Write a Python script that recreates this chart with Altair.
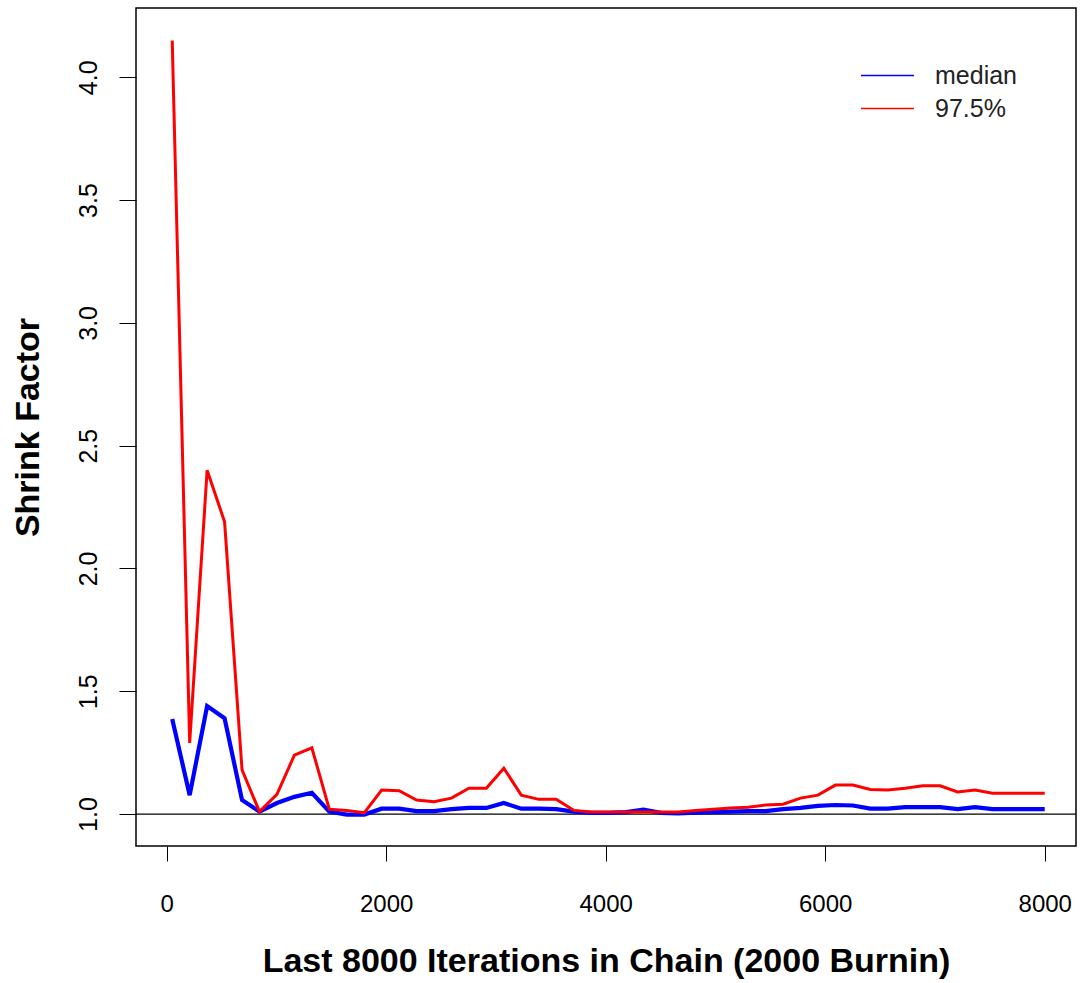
import altair as alt
import pandas as pd

iterations = [51, 210, 369, 528, 687, 846, 1005, 1164, 1323, 1482, 1641, 1800, 1959,
              2118, 2277, 2436, 2595, 2754, 2913, 3072, 3231, 3390, 3549, 3708, 3867,
              4026, 4185, 4344, 4503, 4662, 4821, 4980, 5139, 5298, 5457, 5616, 5775,
              5934, 6093, 6252, 6411, 6570, 6729, 6888, 7047, 7206, 7365, 7524, 7683, 8000]

median_vals = [1.387, 1.077, 1.44, 1.39, 1.057, 1.01, 1.045, 1.07, 1.087, 1.01,
               0.998, 0.998, 1.022, 1.022, 1.012, 1.012, 1.02, 1.025, 1.025, 1.045,
               1.022, 1.022, 1.02, 1.01, 1.005, 1.005, 1.008, 1.018, 1.005, 1.003,
               1.006, 1.008, 1.01, 1.012, 1.012, 1.02, 1.025, 1.033, 1.037, 1.035,
               1.022, 1.022, 1.028, 1.028, 1.028, 1.02, 1.028, 1.02, 1.02, 1.02]

upper_vals = [4.15, 1.29, 2.40, 2.19, 1.18, 1.01, 1.08, 1.24, 1.27, 1.02,
              1.015, 1.005, 1.098, 1.095, 1.057, 1.05, 1.065, 1.105, 1.105, 1.187,
              1.077, 1.06, 1.06, 1.015, 1.008, 1.008, 1.008, 1.008, 1.008, 1.008,
              1.015, 1.02, 1.025, 1.028, 1.037, 1.04, 1.065, 1.077, 1.118, 1.118,
              1.10, 1.098, 1.105, 1.115, 1.115, 1.09, 1.098, 1.085, 1.085, 1.085]

series_names = ["median", "97.5%"]
series_colors = ["#0000FF", "#FF0000"]
x_ticks = [0, 2000, 4000, 6000, 8000]
y_ticks = [1.0, 1.5, 2.0, 2.5, 3.0, 3.5, 4.0]
ref_line = [1.0]

df_med = pd.DataFrame({"iter": iterations, "value": median_vals, "series": series_names[0]})
df_up = pd.DataFrame({"iter": iterations, "value": upper_vals, "series": series_names[1]})

FONT = "Liberation Sans"

x_enc = alt.X("iter:Q",
              scale=alt.Scale(domain=[-279, 8285], nice=False, zero=False),
              axis=alt.Axis(values=x_ticks, title="Last 8000 Iterations in Chain (2000 Burnin)",
                            format="d", grid=False, domain=False, tickSize=15,
                            tickColor="black", tickWidth=1, labelFontSize=24,
                            labelColor="black", labelPadding=31, labelFont=FONT,
                            titleFont=FONT, titleFontSize=34, titleFontWeight="bold",
                            titleColor="black", titlePadding=28, labelFlush=False))
y_scale = alt.Scale(domain=[0.87, 4.282], nice=False, zero=False)
y_enc = alt.Y("value:Q", scale=y_scale,
              axis=alt.Axis(values=y_ticks, title="Shrink Factor", format=".1f",
                            grid=False, domain=False, tickSize=17, tickColor="black",
                            tickWidth=1, labelFontSize=25, labelColor="black",
                            labelAngle=270, labelPadding=18, labelFont=FONT,
                            titleFont=FONT, titleFontSize=34, titleFontWeight="bold",
                            titleColor="black", titlePadding=31, labelFlush=False))

color_enc = alt.Color("series:N",
                      scale=alt.Scale(domain=series_names, range=series_colors),
                      sort=series_names,
                      legend=alt.Legend(title=None, orient="none", legendX=724, legendY=51,
                                        symbolType="stroke", symbolSize=2809,
                                        symbolStrokeWidth=1.5, labelFontSize=25,
                                        labelFont=FONT, labelColor="#222222",
                                        labelOffset=20, rowPadding=0, clipHeight=33))

line_med = alt.Chart(df_med).mark_line(strokeWidth=4.2).encode(
    x=x_enc, y=y_enc, color=color_enc)
line_up = alt.Chart(df_up).mark_line(strokeWidth=3).encode(
    x=alt.X("iter:Q"), y=alt.Y("value:Q"), color=color_enc)

hline = alt.Chart(pd.DataFrame({"y": ref_line})).mark_rule(color="black", strokeWidth=1.2).encode(
    y=alt.Y("y:Q", scale=y_scale)
)

chart = alt.layer(hline, line_med, line_up).properties(
    width=940, height=838,
    autosize=alt.AutoSizeParams(type="none"),
    padding={"left": 136, "top": 8, "right": 4, "bottom": 137},
).configure(background="white").configure_view(stroke="black", strokeWidth=1.5)

chart.save("out.html", embed_options={"renderer": "svg", "actions": False})
